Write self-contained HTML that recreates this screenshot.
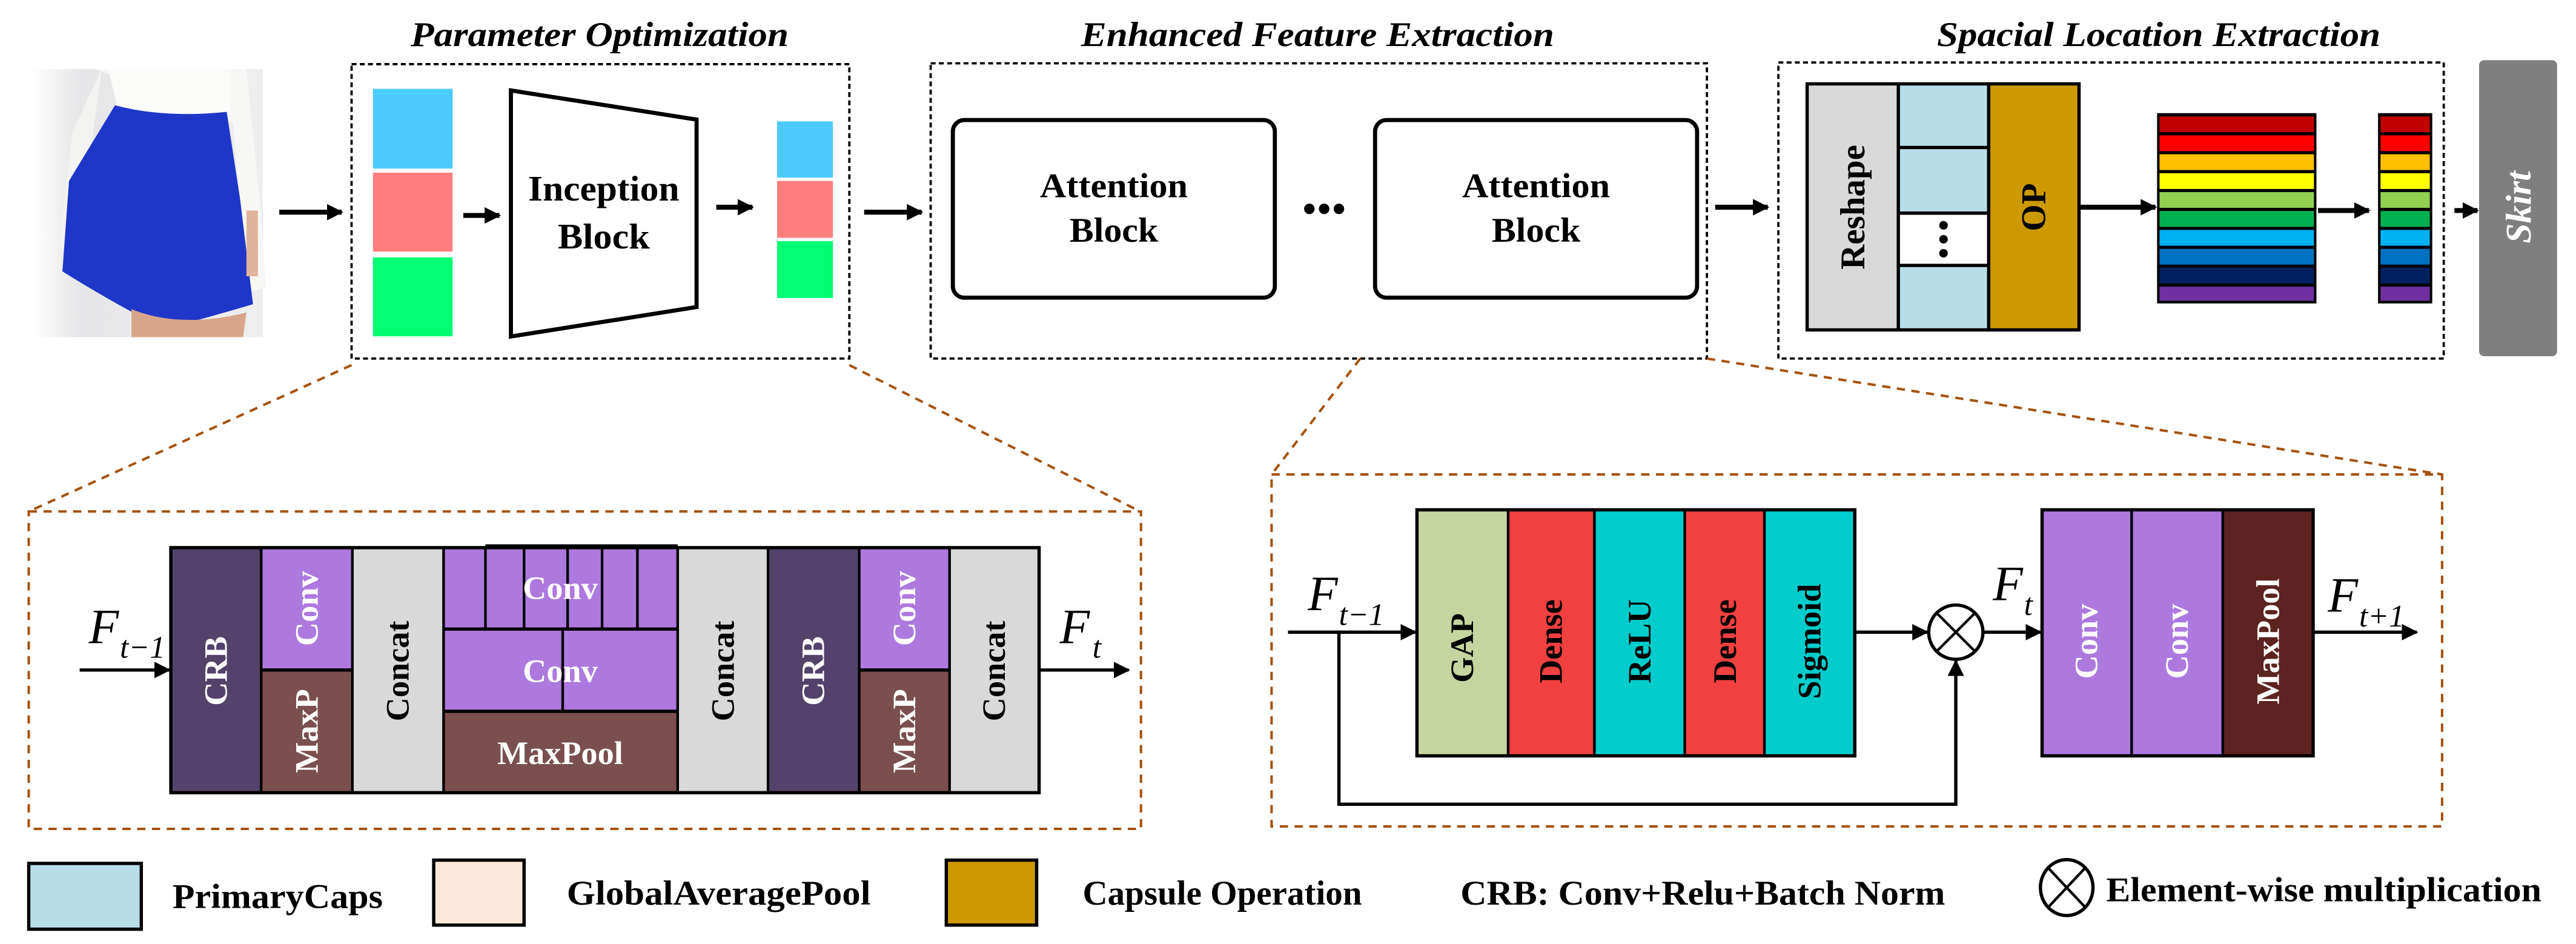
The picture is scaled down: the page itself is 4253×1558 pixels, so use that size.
<!DOCTYPE html>
<html><head><meta charset="utf-8"><style>
html,body{margin:0;padding:0;background:#fff;}
svg{display:block;}
text{font-family:"Liberation Serif",serif;}
</style></head><body>
<svg width="4253" height="1558" viewBox="0 0 1568 574" preserveAspectRatio="none" xmlns="http://www.w3.org/2000/svg">
<defs>
<marker id="ah" markerUnits="userSpaceOnUse" markerWidth="12" markerHeight="12" refX="9" refY="5" orient="auto"><path d="M0,0 L10,5 L0,10 Z" fill="#000"/></marker>
<linearGradient id="bg" x1="0" x2="1"><stop offset="0" stop-color="#fff"/><stop offset="0.2" stop-color="#e6e6e8"/><stop offset="1" stop-color="#eeeeef"/></linearGradient>
</defs>
<g font-weight="bold" font-style="italic" font-size="21">
<text x="365" y="28" text-anchor="middle" textLength="230" lengthAdjust="spacingAndGlyphs">Parameter Optimization</text>
<text x="802" y="28" text-anchor="middle" textLength="288" lengthAdjust="spacingAndGlyphs">Enhanced Feature Extraction</text>
<text x="1314" y="28" text-anchor="middle" textLength="270" lengthAdjust="spacingAndGlyphs">Spacial Location Extraction</text>
</g>
<!-- photo -->
<rect x="20" y="42" width="140" height="163" fill="url(#bg)"/>
<path d="M58,42 L150,42 L158,120 L162,175 L150,178 L142,75 Z" fill="#f7f7f5"/>
<path d="M62,42 L44,80 L36,150 L46,152 L56,85 Z" fill="#f3f3f1"/>
<path d="M66,42 L140,42 L140,70 L72,68 Z" fill="#fbfbfa"/>
<path d="M70,64 Q100,72 138,68 L146,120 L154,185 Q120,195 100,200 Q70,185 38,165 L42,110 Z" fill="#1e37c8"/>
<path d="M80,188 Q110,200 150,190 L148,205 L80,205 Z" fill="#d9a58a"/>
<rect x="150" y="128" width="7" height="40" fill="#e0b49a"/>
<!-- arrows top -->
<g stroke="#000" stroke-width="3" fill="none" marker-end="url(#ah)">
<line x1="170" y1="129" x2="208" y2="129"/>
<line x1="282" y1="131" x2="304" y2="131"/>
<line x1="436" y1="126" x2="458" y2="126"/>
<line x1="526" y1="129" x2="561" y2="129"/>
<line x1="1044" y1="126" x2="1076" y2="126"/>
<line x1="1266" y1="126" x2="1312" y2="126"/>
<line x1="1411" y1="128" x2="1442" y2="128"/>
<line x1="1494" y1="128" x2="1508" y2="128"/>
</g>
<!-- dotted boxes -->
<g fill="none" stroke="#000" stroke-width="1.4" stroke-dasharray="3,2">
<rect x="214" y="39" width="303" height="179"/>
<rect x="566.5" y="38.5" width="472.5" height="179.5"/>
<rect x="1082.5" y="38" width="405" height="180"/>
</g>
<!-- param contents -->
<rect x="227" y="54" width="48.5" height="48.5" fill="#4dcbff"/>
<rect x="227" y="105" width="48.5" height="48" fill="#ff7f7f"/>
<rect x="227" y="156.5" width="48.5" height="48" fill="#00ff73"/>
<polygon points="311,55 424,72.7 424,186.7 311,204.6" fill="#fff" stroke="#000" stroke-width="2.5"/>
<g font-weight="bold" font-size="22" text-anchor="middle">
<text x="367.5" y="122" textLength="92" lengthAdjust="spacingAndGlyphs">Inception</text>
<text x="367.5" y="151" textLength="56" lengthAdjust="spacingAndGlyphs">Block</text>
</g>
<rect x="473" y="73.8" width="34" height="34.2" fill="#4dcbff"/>
<rect x="473" y="110" width="34" height="34.6" fill="#ff7f7f"/>
<rect x="473" y="146.6" width="34" height="34.6" fill="#00ff73"/>
<!-- attention -->
<rect x="580" y="73" width="196" height="108" rx="7" fill="#fff" stroke="#000" stroke-width="2.5"/>
<rect x="837" y="73" width="196" height="108" rx="7" fill="#fff" stroke="#000" stroke-width="2.5"/>
<g font-weight="bold" font-size="21" text-anchor="middle">
<text x="678" y="120" textLength="90" lengthAdjust="spacingAndGlyphs">Attention</text><text x="678" y="147" textLength="54" lengthAdjust="spacingAndGlyphs">Block</text>
<text x="935" y="120" textLength="90" lengthAdjust="spacingAndGlyphs">Attention</text><text x="935" y="147" textLength="54" lengthAdjust="spacingAndGlyphs">Block</text>
</g>
<circle cx="797" cy="127" r="3.2"/><circle cx="806" cy="127" r="3.2"/><circle cx="815" cy="127" r="3.2"/>
<!-- spatial -->
<rect x="1100" y="51" width="55.5" height="149.6" fill="#d9d9d9"/>
<rect x="1155.5" y="51" width="55" height="149.6" fill="#b7dde8"/>
<rect x="1155.5" y="129.6" width="55" height="31.8" fill="#fff"/>
<rect x="1210.5" y="51" width="55" height="149.6" fill="#cc9900"/>
<g stroke="#000" stroke-width="2" fill="none">
<rect x="1100" y="51" width="165.5" height="149.6"/>
<line x1="1155.5" y1="51" x2="1155.5" y2="200.6"/>
<line x1="1210.5" y1="51" x2="1210.5" y2="200.6"/>
<line x1="1155.5" y1="89.7" x2="1210.5" y2="89.7"/>
<line x1="1155.5" y1="129.6" x2="1210.5" y2="129.6"/>
<line x1="1155.5" y1="161.4" x2="1210.5" y2="161.4"/>
</g>
<circle cx="1183" cy="137" r="2.6"/><circle cx="1183" cy="145.5" r="2.6"/><circle cx="1183" cy="154" r="2.6"/>
<text transform="translate(1128,126) rotate(-90)" text-anchor="middle" dominant-baseline="central" font-weight="bold" font-size="21">Reshape</text>
<text transform="translate(1238,126) rotate(-90)" text-anchor="middle" dominant-baseline="central" font-weight="bold" font-size="21">OP</text>
<g>
<rect x="1313" y="68.8" width="97" height="115.7" fill="#000"/>
<rect x="1314.5" y="70.8" width="94" height="9.6" fill="#c00000"/>
<rect x="1314.5" y="82.3" width="94" height="9.6" fill="#ff0000"/>
<rect x="1314.5" y="93.8" width="94" height="9.6" fill="#ffc000"/>
<rect x="1314.5" y="105.3" width="94" height="9.6" fill="#ffff00"/>
<rect x="1314.5" y="116.8" width="94" height="9.6" fill="#92d050"/>
<rect x="1314.5" y="128.3" width="94" height="9.6" fill="#00b050"/>
<rect x="1314.5" y="139.8" width="94" height="9.6" fill="#00b0f0"/>
<rect x="1314.5" y="151.3" width="94" height="9.6" fill="#0070c0"/>
<rect x="1314.5" y="162.8" width="94" height="9.6" fill="#002060"/>
<rect x="1314.5" y="174.3" width="94" height="8.6" fill="#7030a0"/>
</g>
<g>
<rect x="1447.5" y="68.8" width="33" height="115.7" fill="#000"/>
<rect x="1449" y="70.8" width="30" height="9.6" fill="#c00000"/>
<rect x="1449" y="82.3" width="30" height="9.6" fill="#ff0000"/>
<rect x="1449" y="93.8" width="30" height="9.6" fill="#ffc000"/>
<rect x="1449" y="105.3" width="30" height="9.6" fill="#ffff00"/>
<rect x="1449" y="116.8" width="30" height="9.6" fill="#92d050"/>
<rect x="1449" y="128.3" width="30" height="9.6" fill="#00b050"/>
<rect x="1449" y="139.8" width="30" height="9.6" fill="#00b0f0"/>
<rect x="1449" y="151.3" width="30" height="9.6" fill="#0070c0"/>
<rect x="1449" y="162.8" width="30" height="9.6" fill="#002060"/>
<rect x="1449" y="174.3" width="30" height="8.6" fill="#7030a0"/>
</g>
<rect x="1509" y="36.6" width="47.5" height="180" rx="3" fill="#7f7f7f"/>
<text transform="translate(1533,126) rotate(-90)" text-anchor="middle" dominant-baseline="central" font-weight="bold" font-style="italic" font-size="22" fill="#fff">Skirt</text>
<!-- brown dashed -->
<g fill="none" stroke="#a5520f" stroke-width="1.5" stroke-dasharray="5,4">
<line x1="214" y1="222" x2="17.5" y2="311"/>
<line x1="517" y1="222" x2="694" y2="311"/>
<rect x="17.5" y="311" width="677" height="193"/>
<line x1="828" y1="218" x2="774" y2="288.5"/>
<line x1="1039" y1="218" x2="1486.5" y2="288.5"/>
<rect x="774" y="288.5" width="712.5" height="214"/>
</g>
<!-- lower left block -->
<rect x="104" y="333" width="55" height="149" fill="#53426a"/>
<rect x="159" y="333" width="55.5" height="74.4" fill="#ad79de"/>
<rect x="159" y="407.4" width="55.5" height="74.6" fill="#7b4f4f"/>
<rect x="214.5" y="333" width="55.5" height="149" fill="#d9d9d9"/>
<rect x="270" y="333" width="142.5" height="99.5" fill="#ad79de"/>
<rect x="270" y="432.5" width="142.5" height="49.5" fill="#7b4f4f"/>
<rect x="412.5" y="333" width="55" height="149" fill="#d9d9d9"/>
<rect x="467.5" y="333" width="55.5" height="149" fill="#53426a"/>
<rect x="523" y="333" width="55" height="74.4" fill="#ad79de"/>
<rect x="523" y="407.4" width="55" height="74.6" fill="#7b4f4f"/>
<rect x="578" y="333" width="54.5" height="149" fill="#d9d9d9"/>
<g stroke="#000" stroke-width="1.6" fill="none">
<rect x="104" y="333" width="528.5" height="149" stroke-width="2"/>
<line x1="159" y1="333" x2="159" y2="482"/>
<line x1="214.5" y1="333" x2="214.5" y2="482"/>
<line x1="270" y1="333" x2="270" y2="482"/>
<line x1="412.5" y1="333" x2="412.5" y2="482"/>
<line x1="467.5" y1="333" x2="467.5" y2="482"/>
<line x1="523" y1="333" x2="523" y2="482"/>
<line x1="578" y1="333" x2="578" y2="482"/>
<line x1="159" y1="407.4" x2="214.5" y2="407.4" stroke-width="2"/>
<line x1="523" y1="407.4" x2="578" y2="407.4" stroke-width="2"/>
<line x1="270" y1="382.5" x2="412.5" y2="382.5" stroke-width="2"/>
<line x1="270" y1="432.5" x2="412.5" y2="432.5" stroke-width="2"/>
<line x1="295.5" y1="332" x2="412.5" y2="332" stroke-width="2"/>
<line x1="295.5" y1="332" x2="295.5" y2="382.5"/>
<line x1="319" y1="333" x2="319" y2="382.5"/>
<line x1="345.5" y1="333" x2="345.5" y2="382.5"/>
<line x1="366.5" y1="333" x2="366.5" y2="382.5"/>
<line x1="388" y1="333" x2="388" y2="382.5"/>
<line x1="342.5" y1="382.5" x2="342.5" y2="432.5"/>
</g>
<g font-weight="bold" font-size="20" text-anchor="middle" dominant-baseline="central">
<text transform="translate(131.5,408) rotate(-90)" fill="#fff">CRB</text>
<text transform="translate(186.7,370) rotate(-90)" fill="#fff">Conv</text>
<text transform="translate(186.7,444.5) rotate(-90)" fill="#fff">MaxP</text>
<text transform="translate(242,408) rotate(-90)">Concat</text>
<text transform="translate(440,408) rotate(-90)">Concat</text>
<text transform="translate(495,408) rotate(-90)" fill="#fff">CRB</text>
<text transform="translate(550.5,370) rotate(-90)" fill="#fff">Conv</text>
<text transform="translate(550.5,444.5) rotate(-90)" fill="#fff">MaxP</text>
<text transform="translate(605,408) rotate(-90)">Concat</text>
<text x="341" y="357.5" fill="#fff">Conv</text>
<text x="341" y="408" fill="#fff">Conv</text>
<text x="341" y="458" fill="#fff">MaxPool</text>
</g>
<g stroke="#000" stroke-width="2" marker-end="url(#ah)">
<line x1="48.5" y1="407.4" x2="103" y2="407.4"/>
<line x1="632.5" y1="407.4" x2="687" y2="407.4"/>
<line x1="784" y1="384.4" x2="861.5" y2="384.4"/>
<line x1="1129" y1="384.4" x2="1173" y2="384.4"/>
<line x1="1207" y1="384.4" x2="1242" y2="384.4"/>
<line x1="1408" y1="384.4" x2="1471" y2="384.4"/>
</g>
<g font-style="italic" font-size="30">
<text x="54" y="391">F</text><text x="73" y="400" font-size="19">t−1</text>
<text x="645" y="391">F</text><text x="665" y="400" font-size="19">t</text>
<text x="796" y="371">F</text><text x="815" y="380" font-size="19">t−1</text>
<text x="1213" y="365">F</text><text x="1232" y="374" font-size="19">t</text>
<text x="1417" y="372">F</text><text x="1436" y="381" font-size="19">t+1</text>
</g>
<!-- lower right -->
<rect x="862.5" y="310" width="55.5" height="149.6" fill="#c6d59f"/>
<rect x="918" y="310" width="52.5" height="149.6" fill="#f04040"/>
<rect x="970.5" y="310" width="55" height="149.6" fill="#00cccc"/>
<rect x="1025.5" y="310" width="48.5" height="149.6" fill="#f04040"/>
<rect x="1074" y="310" width="55" height="149.6" fill="#00cccc"/>
<rect x="1243" y="310" width="54.5" height="149.6" fill="#ad79de"/>
<rect x="1297.5" y="310" width="55.5" height="149.6" fill="#ad79de"/>
<rect x="1353" y="310" width="55" height="149.6" fill="#5c2320"/>
<g stroke="#000" stroke-width="1.6" fill="none">
<rect x="862.5" y="310" width="266.5" height="149.6" stroke-width="2"/>
<line x1="918" y1="310" x2="918" y2="459.6"/>
<line x1="970.5" y1="310" x2="970.5" y2="459.6"/>
<line x1="1025.5" y1="310" x2="1025.5" y2="459.6"/>
<line x1="1074" y1="310" x2="1074" y2="459.6"/>
<rect x="1243" y="310" width="165" height="149.6" stroke-width="2"/>
<line x1="1297.5" y1="310" x2="1297.5" y2="459.6"/>
<line x1="1353" y1="310" x2="1353" y2="459.6"/>
</g>
<g font-weight="bold" font-size="20" text-anchor="middle" dominant-baseline="central">
<text transform="translate(890,394) rotate(-90)">GAP</text>
<text transform="translate(944,390) rotate(-90)">Dense</text>
<text transform="translate(998,390) rotate(-90)">ReLU</text>
<text transform="translate(1050,390) rotate(-90)">Dense</text>
<text transform="translate(1101.5,390) rotate(-90)">Sigmoid</text>
<text transform="translate(1270,390) rotate(-90)" fill="#fff">Conv</text>
<text transform="translate(1325,390) rotate(-90)" fill="#fff">Conv</text>
<text transform="translate(1380.5,390) rotate(-90)" fill="#fff">MaxPool</text>
</g>
<circle cx="1190.5" cy="384.4" r="16.5" fill="#fff" stroke="#000" stroke-width="2"/>
<line x1="1178.8" y1="372.7" x2="1202.2" y2="396.1" stroke="#000" stroke-width="1.6"/>
<line x1="1202.2" y1="372.7" x2="1178.8" y2="396.1" stroke="#000" stroke-width="1.6"/>
<polyline points="815,384.4 815,489 1190.5,489 1190.5,402" fill="none" stroke="#000" stroke-width="2" marker-end="url(#ah)"/>
<!-- legend -->
<rect x="17.5" y="525" width="68.5" height="40" fill="#b7dde8" stroke="#000" stroke-width="2"/>
<rect x="264" y="523" width="55" height="39.5" fill="#fde9d9" stroke="#000" stroke-width="2"/>
<rect x="576" y="523" width="55" height="39.5" fill="#cc9900" stroke="#000" stroke-width="2"/>
<g font-weight="bold" font-size="21">
<text x="105" y="552" textLength="128" lengthAdjust="spacingAndGlyphs">PrimaryCaps</text>
<text x="345" y="550" textLength="185" lengthAdjust="spacingAndGlyphs">GlobalAveragePool</text>
<text x="659" y="550" textLength="170" lengthAdjust="spacingAndGlyphs">Capsule Operation</text>
<text x="889" y="550" textLength="295" lengthAdjust="spacingAndGlyphs">CRB: Conv+Relu+Batch Norm</text>
<text x="1282" y="548" textLength="265" lengthAdjust="spacingAndGlyphs">Element-wise multiplication</text>
</g>
<ellipse cx="1258" cy="539.7" rx="16" ry="17" fill="#fff" stroke="#000" stroke-width="2"/>
<line x1="1246.7" y1="527.7" x2="1269.3" y2="551.7" stroke="#000" stroke-width="1.6"/>
<line x1="1269.3" y1="527.7" x2="1246.7" y2="551.7" stroke="#000" stroke-width="1.6"/>
</svg>
</body></html>
